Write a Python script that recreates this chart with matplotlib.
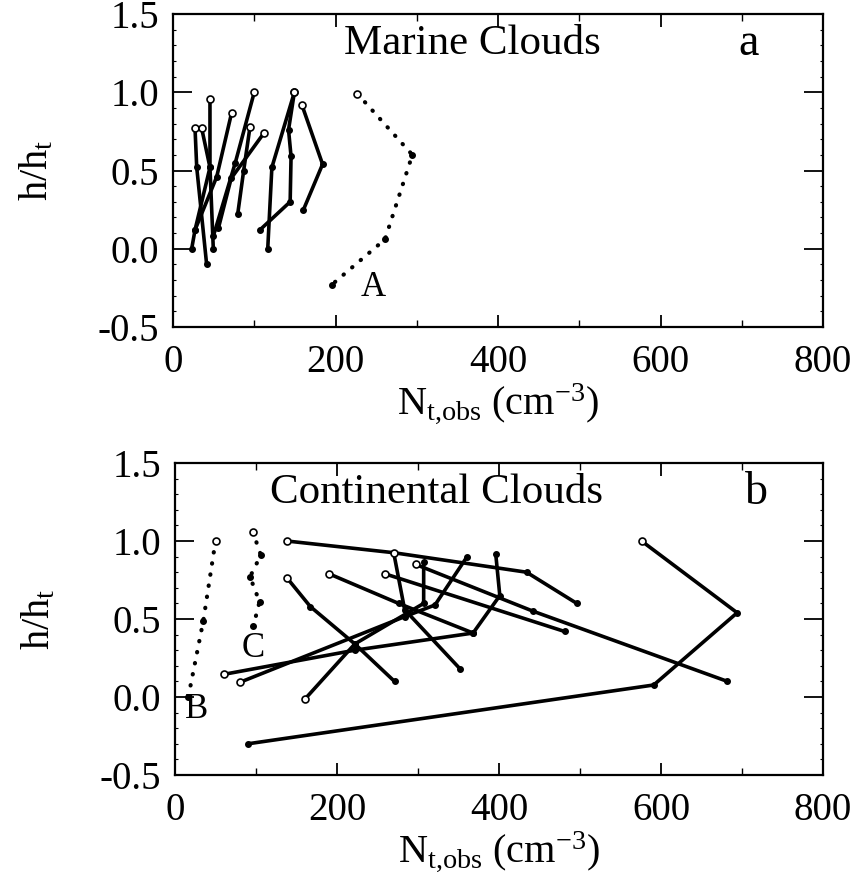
import matplotlib
matplotlib.use("Agg")
import matplotlib.pyplot as plt

plt.rcParams["font.family"] = ["Liberation Serif", "DejaVu Serif"]
plt.rcParams["mathtext.fontset"] = "custom"
plt.rcParams["mathtext.rm"] = "Liberation Serif"
plt.rcParams["mathtext.it"] = "Liberation Serif:italic"

# marine profiles: (N_t,obs, h/h_t) pairs from cloud top downwards
marine_profiles = [
    [(27.1, 0.77), (29.2, 0.52), (41.4, -0.10)],
    [(35.3, 0.77), (45.5, 0.52), (49.6, 0.0)],
    [(45.5, 0.96), (45.5, 0.52), (27.1, 0.12), (23.0, 0.0)],
    [(72.2, 0.87), (53.8, 0.46), (27.1, 0.12)],
    [(100.0, 1.0), (76.7, 0.55), (49.6, 0.08)],
    [(94.8, 0.78), (87.0, 0.50), (79.6, 0.22)],
    [(112.0, 0.74), (71.6, 0.45), (55.8, 0.13)],
    [(149.4, 1.0), (121.7, 0.52), (116.6, 0.0)],
    [(149.4, 1.0), (142.2, 0.76), (145.3, 0.59), (144.2, 0.30), (106.9, 0.12)],
    [(158.6, 0.92), (184.1, 0.54), (160.6, 0.25)],
]
marine_A = [(227.0, 0.99), (294.6, 0.60), (260.9, 0.06), (195.4, -0.23)]

continental_profiles = [
    [(138, 1.0), (270, 0.925), (434, 0.80), (496, 0.60)],
    [(138, 0.765), (167, 0.58), (222, 0.34), (271, 0.10)],
    [(60, 0.145), (222, 0.30), (368, 0.41), (401, 0.65), (396, 0.915)],
    [(80, 0.094), (283.5, 0.515), (321, 0.59), (360, 0.895)],
    [(161, -0.01), (222, 0.34), (307, 0.60), (307, 0.865)],
    [(270, 0.925), (283.5, 0.56), (352, 0.18)],
    [(190, 0.79), (276, 0.60), (368, 0.41)],
    [(259, 0.79), (481, 0.42)],
    [(297, 0.85), (442, 0.55), (682, 0.10)],
    [(576, 1.0), (694, 0.54), (591, 0.077), (90, -0.30)],
]
continental_B = [(50, 1.0), (35, 0.49), (16.4, 0.0)]
continental_C = [(96, 1.06), (106, 0.91), (92.6, 0.77), (104.4, 0.61), (96.7, 0.455)]

x_ticks = [0, 200, 400, 600, 800]
y_ticks = [-0.5, 0.0, 0.5, 1.0, 1.5]
y_tick_labels = ["-0.5", "0.0", "0.5", "1.0", "1.5"]

W, H = 865, 883
fig = plt.figure(figsize=(W / 100, H / 100), dpi=100)


def px_axes(left, top, right, bottom):
    return fig.add_axes([left / W, 1 - bottom / H, (right - left) / W, (bottom - top) / H])


def draw_profile(ax, pts, dotted=False):
    xs = [p[0] for p in pts]
    ys = [p[1] for p in pts]
    if dotted:
        ax.plot(xs, ys, color="black", lw=3.0, linestyle=(0, (0.1, 2.6)),
                dash_capstyle="round", zorder=3)
    else:
        ax.plot(xs, ys, color="black", lw=2.6, solid_capstyle="round", zorder=3)
    ax.plot(xs[1:], ys[1:], "o", color="black", ms=4.0, zorder=4)
    ax.plot(xs[0], ys[0], "o", mfc="white", mec="black", ms=5.0, mew=1.2, zorder=5)


def style_axes(ax):
    ax.set_xlim(0, 800)
    ax.set_ylim(-0.5, 1.5)
    ax.set_xticks(x_ticks)
    ax.set_xticks([100, 300, 500, 700], minor=True)
    ax.set_yticks(y_ticks)
    ax.set_yticklabels(y_tick_labels)
    ax.set_yticks([v / 10 for v in range(-4, 15) if v % 5 != 0], minor=True)
    ax.tick_params(axis="both", which="major", direction="in", top=True, right=True,
                   labelsize=28, width=1.3, color="black")
    ax.tick_params(axis="x", which="major", length=9, pad=12)
    ax.tick_params(axis="y", which="major", length=14, pad=10)
    ax.tick_params(axis="x", which="minor", direction="in", top=True, length=5, width=1.0)
    ax.tick_params(axis="y", which="minor", direction="in", right=True, length=2, width=0.8)
    for s in ax.spines.values():
        s.set_linewidth(1.6)
    ax.set_ylabel(r"h/h$_{\rm t}$", fontsize=29)
    ax.yaxis.set_label_coords(-0.18, 0.5)
    ax.set_xlabel(r"N$_{\rm t{,}obs}$ (cm$^{-3}$)", fontsize=29)
    ax.xaxis.set_label_coords(0.5, -0.175)
    ax.xaxis.label.set_va("top")


ax_a = px_axes(173, 14, 823, 327)
style_axes(ax_a)
for prof in marine_profiles:
    draw_profile(ax_a, prof)
draw_profile(ax_a, marine_A, dotted=True)
ax_a.text(369, 1.31, "Marine Clouds", fontsize=31, ha="center", va="center")
ax_a.text(708, 1.31, "a", fontsize=33, ha="center", va="center")
ax_a.text(246, -0.25, "A", fontsize=25, ha="center", va="center")

ax_b = px_axes(175, 463, 823, 775)
style_axes(ax_b)
for prof in continental_profiles:
    draw_profile(ax_b, prof)
draw_profile(ax_b, continental_B, dotted=True)
draw_profile(ax_b, continental_C, dotted=True)
ax_b.text(323, 1.31, "Continental Clouds", fontsize=31, ha="center", va="center")
ax_b.text(718, 1.31, "b", fontsize=33, ha="center", va="center")
ax_b.text(27, -0.08, "B", fontsize=25, ha="center", va="center")
ax_b.text(96, 0.31, "C", fontsize=25, ha="center", va="center")

fig.savefig("out.png", dpi=100)
